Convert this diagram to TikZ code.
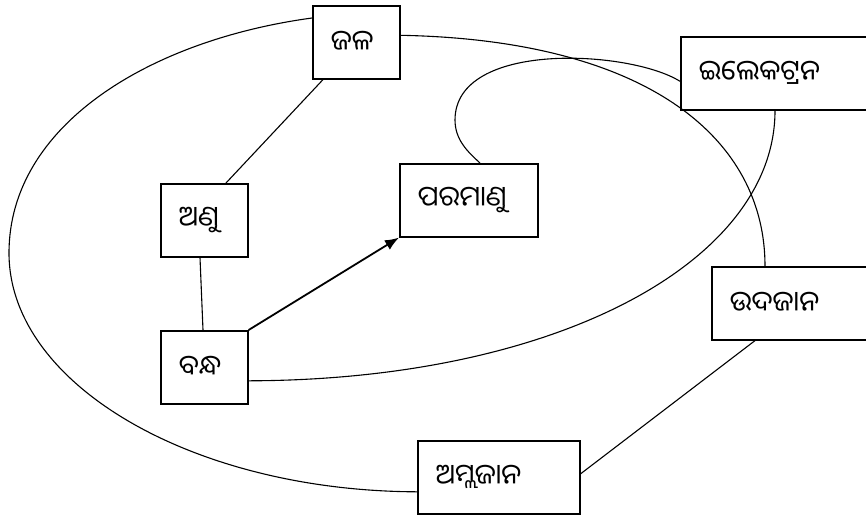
\documentclass[tikz,border=0pt]{standalone}
\usepackage{fontspec}
\newfontfamily\odia[Script=Oriya]{Noto Sans Oriya UI}
\usetikzlibrary{arrows.meta,calc}
\begin{document}
\begin{tikzpicture}[x=1pt,y=-1pt,
  box/.style={draw, line width=1.6pt, inner xsep=18pt, inner ysep=0pt, align=left,
    minimum height=73pt, anchor=north west, font=\odia\fontsize{28}{30}\selectfont},
  link/.style={line width=1.1pt},
  arr/.style={line width=1.8pt, -{Latex[length=14pt,width=11pt]}}]
\useasboundingbox (0,0) rectangle (866,515);
\node[box, text width=51pt] (jala) at (312,5) {ଜଳ};
\node[box, text width=174pt] (elec) at (680,36) {ଇଲେକଟ୍ରନ};
\node[box, text width=102pt] (param) at (399,163) {ପରମାଣୁ};
\node[box, text width=51pt] (anu) at (160,183) {ଅଣୁ};
\node[box, text width=51pt] (bandha) at (160,330) {ବନ୍ଧ};
\node[box, text width=174pt] (udaj) at (711,266) {ଉଦଜାନ};
\node[box, text width=126pt] (amla) at (417,440) {ଅମ୍ଲଜାନ};
% straight links
\draw[link] ($(jala.south west)+(11,0)$) -- ($(anu.north west)+(66,0)$);
\draw[link] ($(anu.south west)+(40,0)$) -- ($(bandha.north west)+(43,0)$);
\draw[arr] (bandha.north east) -- (param.south west);
\draw[link] ($(udaj.south west)+(44,0)$) -- ($(amla.east)+(0,-3.5)$);
% curves
\draw[link] ($(jala.north west)+(0,13)$) .. controls (150,40) and (9,125) .. (9,253)
  .. controls (9,384) and (192,491) .. ($(amla.west)+(0,14.5)$);
\draw[link] ($(jala.east)+(0,-7)$) .. controls (650,40) and (765,140) .. ($(udaj.north west)+(54,0)$);
\draw[link] ($(elec.west)+(0,8)$) .. controls (630,50) and (455,40) .. (455,120)
  .. controls (455,140) and (468,152) .. ($(param.north west)+(81,0)$);
\draw[link] ($(elec.south west)+(95,0)$) .. controls (775,260) and (560,380) .. ($(bandha.east)+(0,13.5)$);
\end{tikzpicture}
\end{document}
